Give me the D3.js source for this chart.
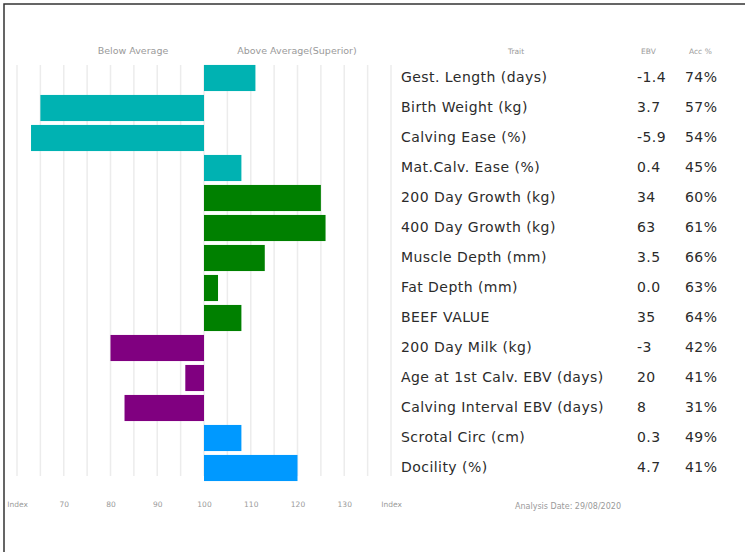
<!DOCTYPE html>
<html>
<head>
<meta charset="utf-8">
<script src="https://cdn.jsdelivr.net/npm/d3@7"></script>
<style>
  body { margin: 0; background: #fff; }
  svg { display: block; }
  .small { font-family: "DejaVu Sans", sans-serif; font-size: 7.5px; fill: #9a9a9a; }
  .head { font-family: "DejaVu Sans", sans-serif; font-size: 9.5px; fill: #9a9a9a; }
  .trait { font-family: "DejaVu Sans", sans-serif; font-size: 14px; letter-spacing: 0.45px; fill: #2b2b2b; }
</style>
</head>
<body>
<div id="chart"></div>
<script>
// Traits, in display order
const traits = [
    "Gest. Length (days)", "Birth Weight (kg)", "Calving Ease (%)", "Mat.Calv. Ease (%)",
    "200 Day Growth (kg)", "400 Day Growth (kg)", "Muscle Depth (mm)", "Fat Depth (mm)",
    "BEEF VALUE", "200 Day Milk (kg)", "Age at 1st Calv. EBV (days)",
    "Calving Interval EBV (days)", "Scrotal Circ (cm)", "Docility (%)"
];
const ebv = ["-1.4", "3.7", "-5.9", "0.4", "34", "63", "3.5", "0.0", "35", "-3", "20", "8", "0.3", "4.7"];
const acc = ["74%", "57%", "54%", "45%", "60%", "61%", "66%", "63%", "64%", "42%", "41%", "31%", "49%", "41%"];
// Index values (100 = average)
const indexValues = [111, 65, 63, 108, 125, 126, 113, 103, 108, 80, 96, 83, 108, 120];
const groups = ["calving", "calving", "calving", "calving", "growth", "growth", "growth", "growth",
    "growth", "maternal", "maternal", "maternal", "other", "other"];
const groupColors = { calving: "#00b2b2", growth: "#008000", maternal: "#800080", other: "#0099ff" };
const tickValues = [60, 70, 80, 90, 100, 110, 120, 130, 140];
const gridValues = d3.range(60, 141, 5);

const width = 745, height = 552;

const svg = d3.select("#chart")
    .append("svg")
    .attr("width", width)
    .attr("height", height);

// Frame (top and left edges only)
svg.append("path")
    .attr("d", `M4,${height} L4,4 L${width},4`)
    .attr("fill", "none")
    .attr("stroke", "#333")
    .attr("stroke-width", 1.5);

const x = d3.scaleLinear().domain([60, 140]).range([17, 391]);
const y = d3.scaleBand().domain(traits).range([63, 483]).paddingInner(0.13).paddingOuter(0.065);

// Vertical grid lines
svg.append("g")
    .selectAll("line")
    .data(gridValues)
    .join("line")
    .attr("x1", d => x(d))
    .attr("x2", d => x(d))
    .attr("y1", 65)
    .attr("y2", 476)
    .attr("stroke", "#ececec")
    .attr("stroke-width", 1.5);

// Header labels
svg.append("text").attr("class", "head").attr("x", 133).attr("y", 54)
    .attr("text-anchor", "middle").text("Below Average");
svg.append("text").attr("class", "head").attr("x", 297).attr("y", 54)
    .attr("text-anchor", "middle").text("Above Average(Superior)");

// Bars
svg.append("g")
    .selectAll("rect")
    .data(traits.map((t, i) => ({ trait: t, value: indexValues[i], group: groups[i] })))
    .join("rect")
    .attr("x", d => x(Math.min(100, d.value)))
    .attr("y", d => y(d.trait))
    .attr("width", d => Math.abs(x(d.value) - x(100)))
    .attr("height", y.bandwidth())
    .attr("fill", d => groupColors[d.group]);

// Bottom axis
const xAxis = d3.axisBottom(x)
    .tickValues(tickValues)
    .tickSize(0)
    .tickFormat(d => (d === 60 || d === 140) ? "Index" : d);

const axisG = svg.append("g")
    .attr("transform", "translate(0,499)")
    .call(xAxis);
axisG.select(".domain").remove();
axisG.selectAll("text")
    .attr("class", "small")
    .attr("fill", null)
    .attr("font-family", null)
    .attr("font-size", null);

svg.append("text").attr("class", "small").attr("x", 515).attr("y", 509)
    .style("font-size", "8px")
    .text("Analysis Date: 29/08/2020");

// Table
svg.append("text").attr("class", "small").attr("x", 516).attr("y", 54)
    .attr("text-anchor", "middle").text("Trait");
svg.append("text").attr("class", "small").attr("x", 641).attr("y", 54).text("EBV");
svg.append("text").attr("class", "small").attr("x", 689).attr("y", 54).text("Acc %");

const rows = svg.append("g")
    .selectAll("g")
    .data(traits)
    .join("g")
    .attr("transform", d => `translate(0,${y(d) + y.bandwidth() / 2 - 1})`);

rows.append("text").attr("class", "trait").attr("x", 401).attr("dy", "0.35em").text(d => d);
rows.append("text").attr("class", "trait").attr("x", 637).attr("dy", "0.35em").text((d, i) => ebv[i]);
rows.append("text").attr("class", "trait").attr("x", 685).attr("dy", "0.35em").text((d, i) => acc[i]);
</script>
</body>
</html>
